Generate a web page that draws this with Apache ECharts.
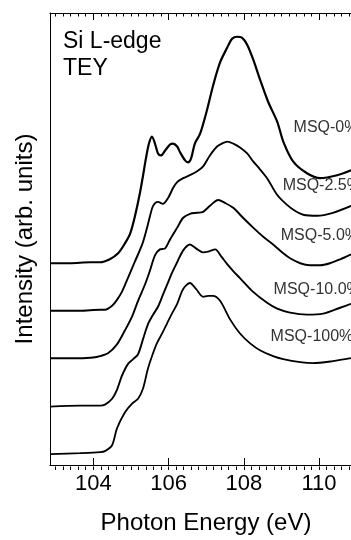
<!DOCTYPE html>
<html>
<head>
<meta charset="utf-8">
<script src="https://cdn.jsdelivr.net/npm/echarts@6/dist/echarts.min.js"></script>
<style>
html,body{margin:0;padding:0;background:#fff;}
#chart{width:351px;height:540px;}
</style>
</head>
<body>
<div id="chart"></div>
<script>
// ---- data (photon energy in eV, intensity in arb. units, offset as plotted) ----
const seriesNames = ['MSQ-0%', 'MSQ-2.5%', 'MSQ-5.0%', 'MSQ-10.0%', 'MSQ-100%'];
const tickLabels = [104, 106, 108, 110];

const msq0 = [
  [102.85,20.4],[103.38,20.4],[103.91,20.5],[104.18,20.5],[104.44,20.8],[104.66,21.4],
  [104.84,22.4],[104.98,23.4],[105.11,25.2],[105.24,27.5],[105.32,29.2],[105.40,31.0],
  [105.48,32.5],[105.56,33.2],[105.64,32.5],[105.72,31.5],[105.80,31.3],[105.91,31.8],
  [106.04,32.4],[106.12,32.5],[106.23,32.2],[106.31,31.6],[106.44,30.8],[106.52,30.6],
  [106.60,31.0],[106.70,32.5],[106.84,33.5],[107.03,36.0],[107.18,38.3],[107.37,40.7],
  [107.56,42.2],[107.69,43.1],[107.82,43.3],[107.95,43.2],[108.09,42.5],[108.25,41.0],
  [108.43,39.0],[108.65,36.7],[108.89,34.7],[109.05,32.7],[109.31,30.7],[109.68,29.5],
  [110.03,29.0],[110.48,29.3],[110.85,29.8]
];
const msq25 = [
  [102.85,15.6],[103.65,15.6],[104.18,15.7],[104.31,15.7],[104.50,16.1],[104.63,16.7],
  [104.76,17.5],[104.92,18.9],[105.11,20.6],[105.30,22.3],[105.43,24.0],[105.51,25.2],
  [105.59,26.2],[105.72,26.6],[105.85,26.4],[105.99,27.0],[106.12,28.0],[106.23,28.6],
  [106.39,29.0],[106.57,29.3],[106.76,29.7],[106.92,30.2],[107.10,31.3],[107.29,32.2],
  [107.42,32.5],[107.56,32.7],[107.72,32.5],[107.90,32.1],[108.09,31.5],[108.25,30.7],
  [108.43,29.9],[108.62,29.0],[108.89,27.3],[109.15,26.3],[109.36,25.7],[109.58,25.3],
  [109.95,25.2],[110.37,25.5],[110.85,26.2]
];
const msq50 = [
  [102.85,10.8],[103.65,10.8],[104.05,10.9],[104.18,11.0],[104.39,11.3],[104.63,12.2],
  [104.84,13.6],[105.03,15.0],[105.19,16.6],[105.38,18.3],[105.51,19.7],[105.64,21.2],
  [105.77,21.8],[105.91,21.9],[106.04,22.8],[106.23,24.0],[106.39,25.0],[106.57,25.4],
  [106.76,25.5],[106.92,25.6],[107.10,26.2],[107.32,26.8],[107.50,26.5],[107.72,26.0],
  [107.98,25.0],[108.25,24.0],[108.51,23.1],[108.78,22.3],[109.05,21.4],[109.23,20.9],
  [109.50,20.4],[109.76,20.2],[110.03,20.2],[110.29,20.4],[110.56,20.8],[110.85,21.3]
];
const msq100 = [
  [102.85,5.9],[103.65,6.0],[104.18,6.0],[104.31,6.1],[104.50,6.7],[104.63,7.6],
  [104.76,9.0],[104.92,10.2],[105.06,10.7],[105.19,11.2],[105.32,12.7],[105.45,14.2],
  [105.59,15.2],[105.72,16.0],[105.85,17.2],[105.96,18.2],[106.09,19.4],[106.23,20.5],
  [106.39,21.7],[106.57,22.3],[106.73,21.9],[106.92,21.5],[107.08,21.6],[107.24,21.8],
  [107.40,21.1],[107.56,20.3],[107.72,19.6],[107.90,18.9],[108.25,17.5],[108.62,16.4],
  [108.89,15.8],[109.23,15.4],[109.68,15.2],[110.11,15.3],[110.56,15.9],[110.85,16.3]
];
const msq1000 = [
  [102.85,1.1],[103.65,1.2],[104.18,1.3],[104.31,1.4],[104.50,2.0],[104.63,3.7],
  [104.84,5.3],[105.03,6.2],[105.19,6.7],[105.32,7.7],[105.45,9.7],[105.56,11.0],
  [105.69,12.3],[105.83,13.3],[105.96,14.3],[106.09,15.3],[106.23,16.3],[106.39,17.8],
  [106.57,18.4],[106.73,17.8],[106.92,17.0],[107.05,17.1],[107.18,17.1],[107.37,16.6],
  [107.64,14.7],[107.90,13.3],[108.17,12.3],[108.43,11.6],[108.78,11.0],[109.05,10.7],
  [109.50,10.4],[109.84,10.3],[110.37,10.5],[110.85,10.8]
];
const curves = [msq0, msq25, msq50, msq100, msq1000];

// ---- layout (label anchors in data coordinates) ----
const labelAnchors = [[109.31,34.1],[109.02,28.3],[108.97,23.2],[108.78,17.7],[108.70,13.0]];
const lineWidths = [2.2, 1.9, 1.9, 1.9, 1.8];

const FONT = 'Liberation Sans, Arial, Helvetica, sans-serif';
const chart = echarts.init(document.getElementById('chart'), null, {renderer: 'canvas'});

const series = curves.map((d, i) => ({
  type: 'line',
  name: seriesNames[i],
  xAxisIndex: 0, yAxisIndex: 0,
  data: d,
  showSymbol: false,
  smooth: 0.3,
  lineStyle: {color: '#000', width: lineWidths[i]},
  silent: true,
  markPoint: {
    symbol: 'circle', symbolSize: 1,
    itemStyle: {color: 'rgba(0,0,0,0)'},
    label: {show: true, position: 'right', distance: 0, formatter: '{b}',
      color: '#333', fontSize: 16, fontFamily: FONT},
    data: [{name: seriesNames[i], coord: labelAnchors[i]}]
  }
}));

const majorAxisCommon = {
  type: 'value', min: 102.85, max: 110.85, splitNumber: 4,
  axisLine: {show: true, onZero: false, lineStyle: {color: '#000', width: 1}},
  axisTick: {show: true, inside: true, length: 7, lineStyle: {color: '#000', width: 1}},
  splitLine: {show: false}, minorTick: {show: false}
};
const minorAxisCommon = {
  type: 'value', gridIndex: 1, min: 103.0, max: 110.85, interval: 0.2,
  axisLine: {show: false}, axisLabel: {show: false},
  axisTick: {show: true, inside: true, length: 3.5, lineStyle: {color: '#000', width: 1}},
  splitLine: {show: false}
};

chart.setOption({
  animation: false,
  backgroundColor: '#fff',
  grid: [
    {left: 50, right: 0, top: 13, bottom: 70, containLabel: false},
    {left: 55.64, right: 0, top: 13, bottom: 70, containLabel: false}
  ],
  xAxis: [
    Object.assign({}, majorAxisCommon, {
      position: 'bottom', gridIndex: 0,
      axisLabel: {show: true, margin: 8, fontSize: 22, color: '#000', fontFamily: FONT,
        showMinLabel: false, showMaxLabel: false,
        formatter: v => tickLabels.some(t => Math.abs(t - v) < 1e-6) ? String(Math.round(v)) : ''},
      name: 'Photon Energy (eV)', nameLocation: 'middle', nameGap: 46,
      nameTextStyle: {fontSize: 24, color: '#000', fontFamily: FONT, padding: [0, 0, 0, 11]}
    }),
    Object.assign({}, majorAxisCommon, {
      position: 'top', gridIndex: 0, axisLabel: {show: false}
    }),
    Object.assign({}, minorAxisCommon, {position: 'bottom'}),
    Object.assign({}, minorAxisCommon, {position: 'top'})
  ],
  yAxis: [
    {
      type: 'value', gridIndex: 0, min: 0, max: 45.7,
      axisLine: {show: true, onZero: false, lineStyle: {color: '#000', width: 1}},
      axisTick: {show: false}, axisLabel: {show: false}, splitLine: {show: false},
      name: 'Intensity (arb. units)', nameLocation: 'middle', nameGap: 13,
      nameTextStyle: {fontSize: 24, color: '#000', fontFamily: FONT}
    },
    {type: 'value', gridIndex: 1, min: 0, max: 45.7, show: false}
  ],
  graphic: [{
    type: 'text', left: 63, top: 28,
    style: {text: 'Si L-edge\nTEY', font: '23px ' + FONT, fill: '#000', lineHeight: 27}
  }],
  series: series
});
</script>
</body>
</html>
